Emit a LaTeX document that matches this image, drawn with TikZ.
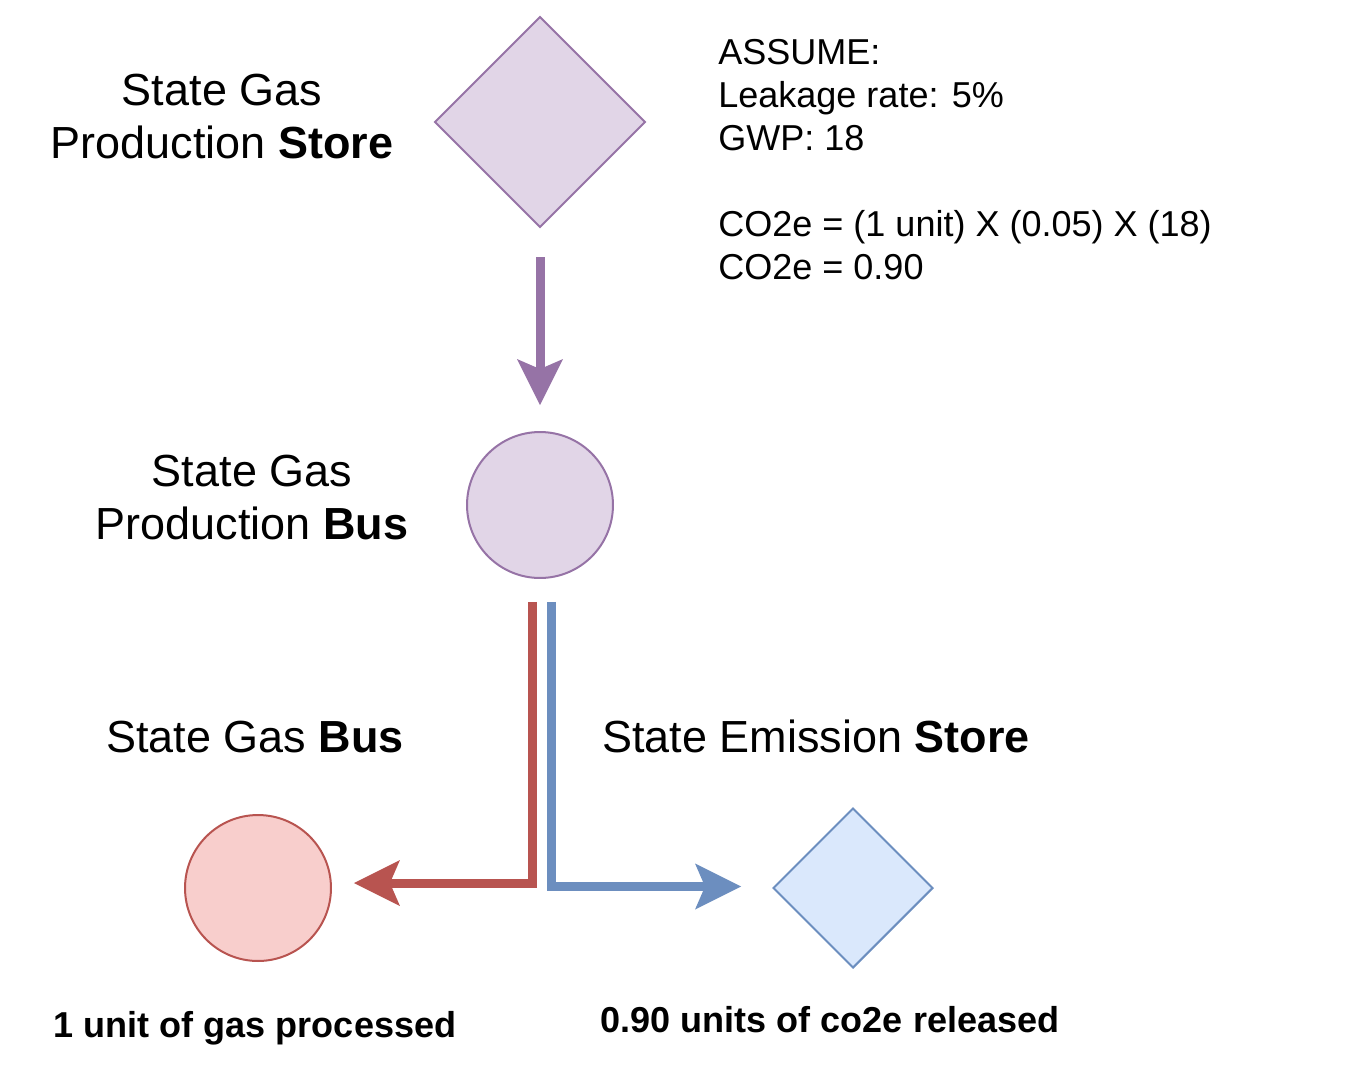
\documentclass[tikz,border=0pt]{standalone}
\usepackage{fontspec}
\setmainfont{Liberation Sans}
\usetikzlibrary{shapes.geometric,arrows.meta}
\definecolor{morado}{HTML}{9673A6}
\definecolor{moradoclaro}{HTML}{E1D5E7}
\definecolor{rojo}{HTML}{B85450}
\definecolor{rojoclaro}{HTML}{F8CECC}
\definecolor{azul}{HTML}{6C8EBF}
\definecolor{azulclaro}{HTML}{DAE8FC}
\tikzset{
  flecha/.style={line width=0.18cm, -{Stealth[length=0.92cm,width=0.92cm,inset=0.2cm,line width=0pt]}},
  figura/.style={line width=0.04cm, inner sep=0pt},
  etiqueta/.style={font=\fontsize{25.6}{30.5}\selectfont, align=center, inner sep=0pt},
  nota/.style={font=\fontsize{20.5}{24.5}\selectfont, inner sep=0pt}
}
\begin{document}
\begin{tikzpicture}[x=0.02cm,y=-0.02cm]
    \useasboundingbox (0,0) rectangle (1359,1089);

    % Nodos
    \node[figura, diamond, draw=morado, fill=moradoclaro, minimum size=4.22cm] (prodstore) at (540,122) {};
    \node[figura, circle, draw=morado, fill=moradoclaro, minimum size=2.92cm] (prodbus) at (540,505) {};
    \node[figura, circle, draw=rojo, fill=rojoclaro, minimum size=2.92cm] (gasbus) at (258,888) {};
    \node[figura, diamond, draw=azul, fill=azulclaro, minimum size=3.2cm] (emisstore) at (853,888) {};

    % Flechas
    \draw[flecha, morado, shorten <=0.58cm, shorten >=0.52cm] (prodstore.south) -- (prodbus.north);
    \draw[flecha, rojo] ([xshift=-0.16cm,yshift=-0.46cm]prodbus.south) |- ([xshift=0.44cm,yshift=0.1cm]gasbus.east);
    \draw[flecha, azul] ([xshift=0.22cm,yshift=-0.46cm]prodbus.south) |- ([xshift=-0.62cm,yshift=0.03cm]emisstore.west);

    % Textos
    \node[etiqueta] (prodstorelbl) at (222,116.5) {State Gas\\Production \textbf{Store}};
    \node[etiqueta] (prodbuslbl) at (252,497.5) {State Gas\\Production \textbf{Bus}};
    \node[etiqueta, anchor=base] (gasbuslbl) at (255,752) {State Gas \textbf{Bus}};
    \node[etiqueta, anchor=base] (emisstorelbl) at (816,752) {State Emission \textbf{Store}};
    \node[nota, anchor=north west, align=left] (supuestos) at (718,39)
        {ASSUME:\\Leakage rate: 5\%\\GWP: 18\\[24.5pt]CO2e = (1 unit) X (0.05) X (18)\\CO2e = 0.90};
    \node[nota, font=\fontsize{20.5}{24.5}\selectfont\bfseries, anchor=base] (gaslbl) at (255,1037) {1 unit of gas processed};
    \node[nota, font=\fontsize{20.5}{24.5}\selectfont\bfseries, anchor=base] (co2lbl) at (830,1032) {0.90 units of co2e released};
\end{tikzpicture}
\end{document}
